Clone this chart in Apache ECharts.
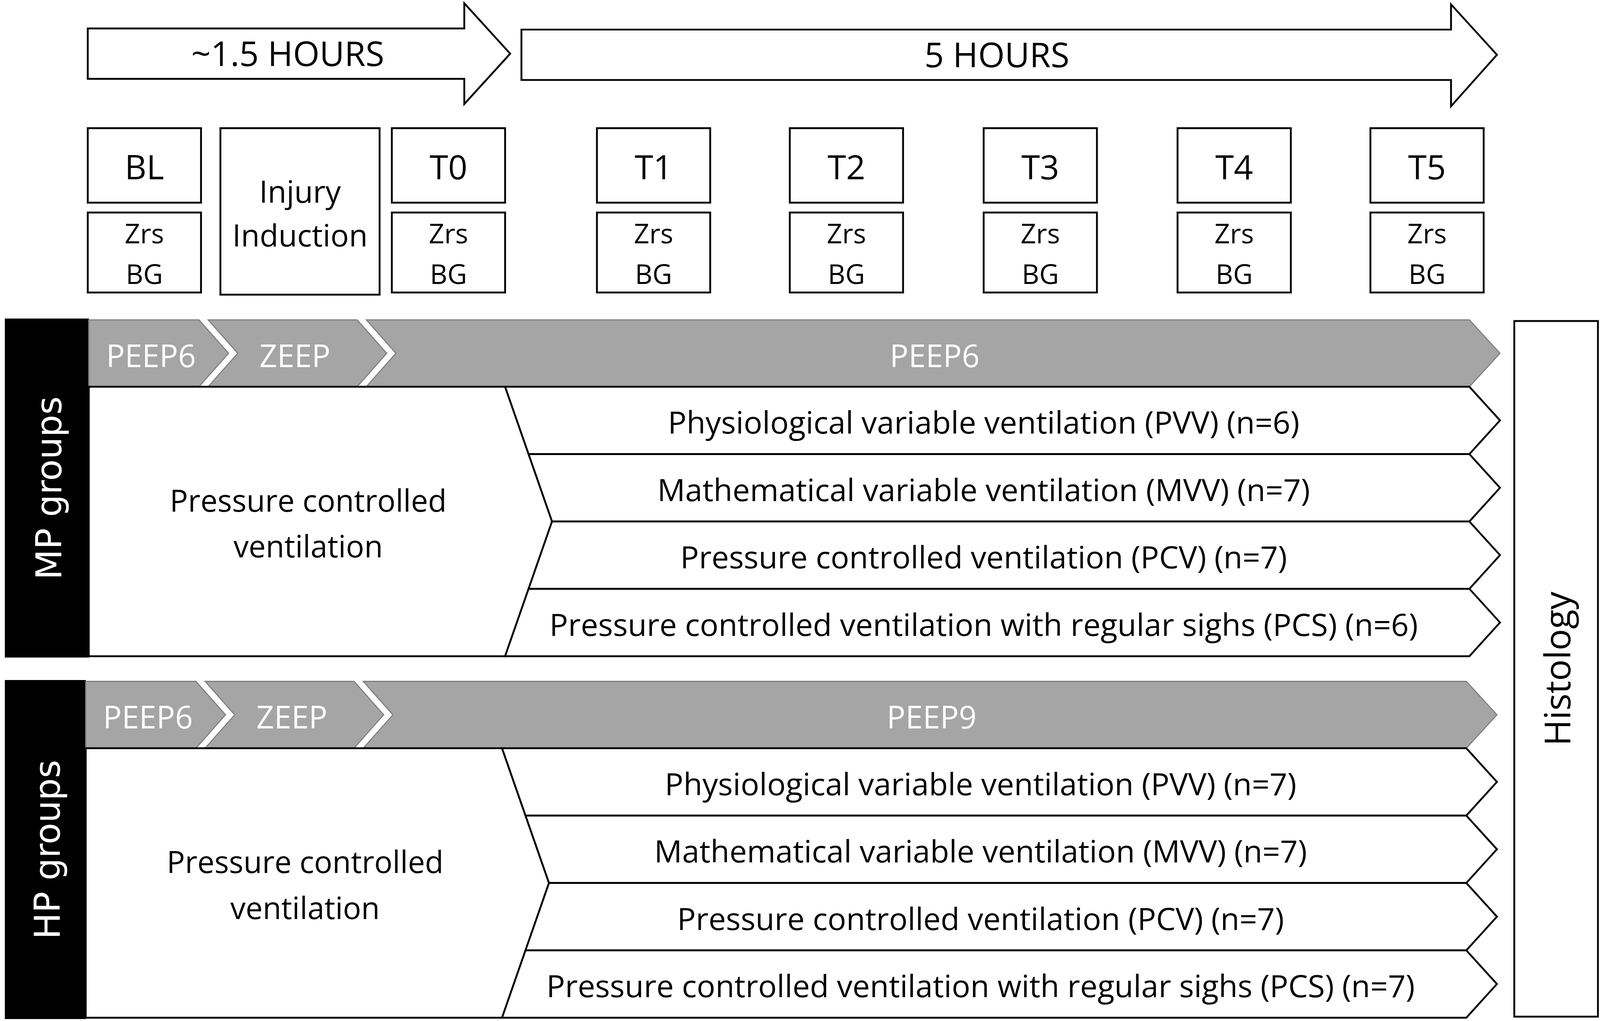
<!DOCTYPE html>
<html>
<head>
<meta charset="utf-8">
<script src="https://cdn.jsdelivr.net/npm/echarts@6/dist/echarts.min.js"></script>
<style>
  html, body { margin: 0; padding: 0; background: #fff; overflow: hidden; }
  #chart { width: 100vw; height: 100vh; }
</style>
</head>
<body>
<div id="chart"></div>
<script>
// --- content ---

const phaseLabels = ['~1.5 HOURS', '5 HOURS'];
const timepointLabels = ['BL', 'T0', 'T1', 'T2', 'T3', 'T4', 'T5'];
const measureLabels = ['Zrs', 'BG'];
const injuryLabel = ['Injury', 'Induction'];
const groupLabels = ['MP groups', 'HP groups'];
const peepSteps = [['PEEP6', 'ZEEP', 'PEEP6'], ['PEEP6', 'ZEEP', 'PEEP9']];
const baselineMode = ['Pressure controlled', 'ventilation'];
const protocolLabels = [
    'Physiological variable ventilation (PVV)',
    'Mathematical variable ventilation (MVV)',
    'Pressure controlled ventilation (PCV)',
    'Pressure controlled ventilation with regular sighs (PCS)'
];
const groupSizes = [[6, 7, 7, 6], [7, 7, 7, 7]];
const endpointLabel = 'Histology';

// --- layout (figure units, 1568 x 932) ---

const FIG_W = 1568, FIG_H = 932;

const phaseArrows = [
    { x0: 86, head: 455, tip: 500, top: 26, bottom: 72, headTop: 3, headBottom: 95, textX: 282 },
    { x0: 511, head: 1422, tip: 1467, top: 27, bottom: 73, headTop: 4, headBottom: 97, textX: 977 }
];
const timepointX = [86, 384, 585, 774, 964, 1154, 1343];
const boxW = 111;
const labelBox = [117, 185];
const measureBox = [194, 267];
const injuryBox = { x0: 216, x1: 372, y0: 117, y1: 269 };

const sections = [
    { shift: 0, top: 292, start: 87 },
    { shift: -3, top: 622, start: 84 }
];
const barLeft = 5;
const bandH = 61, rowH = 61.5;
const chevron = { r1: 195, l2: 204, r2: 350, l3: 359, end: 1440, depth: 29, tip: 30 };
const peepTextX = [148, 289, 916];
const diag = { x: 495, bulge: 46 };
const rowTextX = 964;
const baselineTextX = 302;
const histologyBox = { x0: 1484, x1: 1566, y0: 293, y1: 928 };

const FONT = '"Open Sans", "Noto Sans", sans-serif';
const GROUP_FONT = '"DejaVu Sans", sans-serif';
const GRAY = '#a5a5a5';
const GRAY_EDGE = '#7f7f7f';

// figure units -> pixels through the hidden axes
function figure(api) {
    const a = api.coord([0, 0]);
    const b = api.coord([1, 0]);
    return { p: (x, y) => api.coord([x, y]), k: b[0] - a[0] };
}

function poly(points, f, fill, stroke, lw) {
    return {
        type: 'polygon',
        shape: { points: points.map(([x, y]) => f.p(x, y)) },
        style: { fill, stroke, lineWidth: lw * f.k, lineJoin: 'miter' }
    };
}

function label(f, text, x, y, size, opts = {}) {
    const [px, py] = f.p(x, y);
    return {
        type: 'text',
        x: px,
        y: py,
        rotation: opts.rotation || 0,
        style: {
            text,
            fill: opts.color || '#000',
            fontSize: size * f.k,
            fontFamily: opts.font || FONT,
            align: 'center',
            verticalAlign: 'middle'
        }
    };
}

function rect(f, x0, y0, x1, y1, fill, stroke, lw) {
    return poly([[x0, y0], [x1, y0], [x1, y1], [x0, y1]], f, fill, stroke, lw);
}

// 上方時間箭頭

function renderPhase(params, api) {
    const f = figure(api);
    const a = phaseArrows[params.dataIndex];
    const mid = (a.top + a.bottom) / 2;
    return {
        type: 'group',
        children: [
            poly([[a.x0, a.top], [a.head, a.top], [a.head, a.headTop], [a.tip, mid],
                [a.head, a.headBottom], [a.head, a.bottom], [a.x0, a.bottom]], f, '#fff', '#000', 1.8),
            label(f, phaseLabels[params.dataIndex], a.textX, mid + 2.5, 33.5)
        ]
    };
}

// 量測時間點

function renderTimepoint(params, api) {
    const f = figure(api);
    const x0 = timepointX[params.dataIndex];
    const cx = x0 + boxW / 2;
    return {
        type: 'group',
        children: [
            rect(f, x0, labelBox[0], x0 + boxW, labelBox[1], '#fff', '#000', 1.8),
            rect(f, x0, measureBox[0], x0 + boxW, measureBox[1], '#fff', '#000', 1.8),
            label(f, timepointLabels[params.dataIndex], cx, (labelBox[0] + labelBox[1]) / 2 + 4, 33),
            label(f, measureLabels[0], cx, measureBox[0] + 21, 26.5),
            label(f, measureLabels[1], cx, measureBox[1] - 15, 26.5)
        ]
    };
}

function renderInjury(params, api) {
    const f = figure(api);
    const b = injuryBox;
    const cx = (b.x0 + b.x1) / 2;
    return {
        type: 'group',
        children: [
            rect(f, b.x0, b.y0, b.x1, b.y1, '#fff', '#000', 1.8),
            label(f, injuryLabel[0], cx, 177, 30),
            label(f, injuryLabel[1], cx, 217, 30)
        ]
    };
}

// MP / HP 組別

function renderGroup(params, api) {
    const f = figure(api);
    const g = params.dataIndex;
    const s = sections[g];
    const dx = s.shift;
    const top = s.top;
    const bandBot = top + bandH;
    const bandMid = top + bandH / 2;
    const rowsBot = bandBot + 4 * rowH;
    const mid = bandBot + 2 * rowH;
    const c = chevron;
    const children = [];

    children.push(rect(f, barLeft, top - 1, s.start, rowsBot + 1, '#000', '#000', 0.5));
    children.push(label(f, groupLabels[g], (barLeft + s.start) / 2 + 5, (top + rowsBot) / 2, 34.5,
        { rotation: Math.PI / 2, color: '#fff', font: GROUP_FONT }));

    // gray chevron band
    children.push(poly([[s.start, top], [c.r1 + dx, top], [c.r1 + c.depth + dx, bandMid],
        [c.r1 + dx, bandBot], [s.start, bandBot]], f, GRAY, GRAY_EDGE, 1.1));
    children.push(poly([[c.l2 + dx, top], [c.r2 + dx, top], [c.r2 + c.depth + dx, bandMid],
        [c.r2 + dx, bandBot], [c.l2 + dx, bandBot], [c.l2 + c.depth + dx, bandMid]], f, GRAY, GRAY_EDGE, 1.1));
    children.push(poly([[c.l3 + dx, top], [c.end + dx, top], [c.end + c.tip + dx, bandMid],
        [c.end + dx, bandBot], [c.l3 + dx, bandBot], [c.l3 + c.depth + dx, bandMid]], f, GRAY, GRAY_EDGE, 1.1));
    peepSteps[g].forEach((t, i) => {
        children.push(label(f, t, peepTextX[i] + dx, bandMid + 4.5, 30.5, { color: '#fff' }));
    });

    // baseline ventilation region
    const dX = diag.x + dx;
    children.push(poly([[s.start, bandBot], [dX, bandBot], [dX + diag.bulge, mid],
        [dX, rowsBot], [s.start, rowsBot]], f, '#fff', '#000', 1.8));
    children.push(label(f, baselineMode[0], baselineTextX + dx, mid - 17, 29.8));
    children.push(label(f, baselineMode[1], baselineTextX + dx, mid + 25, 29.8));

    // protocol rows
    const xAt = y => dX + diag.bulge * (1 - Math.abs(y - mid) / (2 * rowH));
    protocolLabels.forEach((name, i) => {
        const yT = bandBot + i * rowH;
        const yB = yT + rowH;
        const yM = (yT + yB) / 2;
        children.push(poly([[xAt(yT), yT], [c.end + dx, yT], [c.end + c.tip + dx, yM],
            [c.end + dx, yB], [xAt(yB), yB]], f, '#fff', '#000', 1.8));
        children.push(label(f, `${name} (n=${groupSizes[g][i]})`, rowTextX + dx, yM + 4, 30.4));
    });

    return { type: 'group', children };
}

function renderEndpoint(params, api) {
    const f = figure(api);
    const b = histologyBox;
    return {
        type: 'group',
        children: [
            rect(f, b.x0, b.y0, b.x1, b.y1, '#fff', '#000', 1.8),
            label(f, endpointLabel, (b.x0 + b.x1) / 2 + 4, (b.y0 + b.y1) / 2, 35, { rotation: Math.PI / 2 })
        ]
    };
}

const chart = echarts.init(document.getElementById('chart'));

const option = {
    animation: false,
    backgroundColor: '#fff',
    grid: { left: 0, right: 0, top: 0, bottom: 0 },
    xAxis: { type: 'value', min: 0, max: FIG_W, show: false },
    yAxis: { type: 'value', min: 0, max: FIG_H, inverse: true, show: false },
    series: [
        { type: 'custom', name: 'phases', renderItem: renderPhase, data: phaseLabels.map((_, i) => [i, 0]) },
        { type: 'custom', name: 'timepoints', renderItem: renderTimepoint, data: timepointLabels.map((_, i) => [i, 0]) },
        { type: 'custom', name: 'injury', renderItem: renderInjury, data: [[0, 0]] },
        { type: 'custom', name: 'groups', renderItem: renderGroup, data: groupLabels.map((_, i) => [i, 0]) },
        { type: 'custom', name: 'endpoint', renderItem: renderEndpoint, data: [[0, 0]] }
    ]
};

option && chart.setOption(option);
window.addEventListener('resize', () => chart.resize());
</script>
</body>
</html>
